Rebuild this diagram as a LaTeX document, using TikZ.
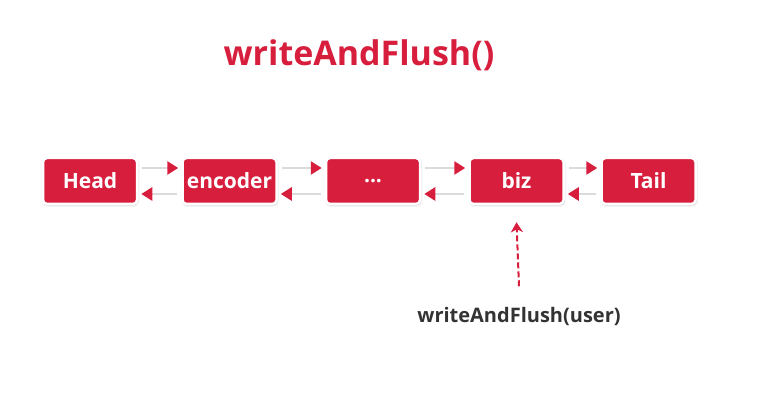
\documentclass[tikz,border=0pt]{standalone}
\usepackage{fontspec}
\setmainfont{Open Sans}
\definecolor{pipered}{HTML}{D71F3D}
\definecolor{pipetext}{HTML}{333333}
\usetikzlibrary{arrows.meta, positioning, shadows.blur}

\begin{document}
\begin{tikzpicture}[x=1pt, y=1pt,
    blk/.style={draw=white, line width=2.5pt, fill=pipered, rounded corners=4pt,
      minimum width=94pt, minimum height=46pt, inner sep=0pt,
      text=white, font=\fontsize{21}{25}\selectfont\bfseries,
      blur shadow={shadow xshift=0.6pt, shadow yshift=-1pt, shadow blur steps=6, shadow opacity=30}},
    link/.style={draw=black!14, line width=2.6pt,
      -{Triangle[length=11pt 0, width=13pt 0, color=pipered, fill=pipered]}, shorten >=3pt}]
    \useasboundingbox (0,0) rectangle (762,419);
    % Title
    \node[text=pipered, font=\fontsize{34}{40}\selectfont\bfseries, anchor=base]
      (title) at (359,353) {writeAndFlush()};
    % Pipeline handlers
    \node[blk] (head) at (90,238) {Head};
    \node[blk] (enc) at (229.5,238) {encoder};
    \node[blk] (dots) at (373,238) {...};
    \node[blk] (biz) at (516.5,238) {biz};
    \node[blk] (tail) at (648.5,238) {Tail};
    % Links between neighbours (forward above, backward below)
    \foreach \a/\b in {head/enc, enc/dots, dots/biz, biz/tail} {
      \draw[link] ([xshift=4pt, yshift=13pt]\a.east) -- ([yshift=13pt]\b.west);
      \draw[link] ([xshift=-4pt, yshift=-13pt]\b.west) -- ([yshift=-13pt]\a.east);
    }
    % Call site
    \node[text=pipetext, font=\fontsize{20}{24}\selectfont\bfseries, anchor=base]
      (call) at (519,96) {writeAndFlush(user)};
    \draw[pipered, line width=2pt, dash pattern=on 6pt off 3pt,
      -{Stealth[length=10pt 0, width=12pt 0, inset=3pt]}]
      ([yshift=18pt]call.north) -- ([yshift=-17pt]biz.south);
\end{tikzpicture}
\end{document}
